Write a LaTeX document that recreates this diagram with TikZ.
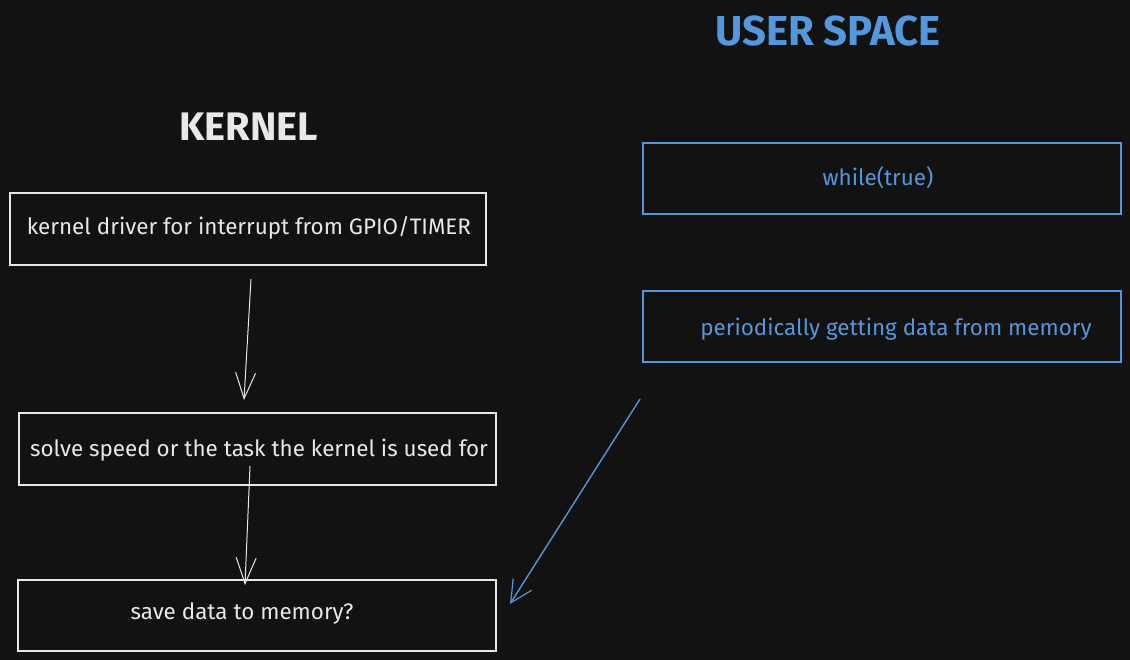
\documentclass[tikz,border=0pt]{standalone}
\usepackage{fontspec}
\setmainfont{Fira Sans}
\usetikzlibrary{arrows.meta}
\definecolor{bg}{HTML}{121212}
\definecolor{ink}{HTML}{E8E8E8}
\definecolor{blu}{HTML}{5597DC}
\tikzset{
  wbox/.style={draw=ink, line width=1.1pt},
  bbox/.style={draw=blu, line width=1.1pt},
  wtxt/.style={text=ink, font=\fontsize{22.5}{26}\selectfont, inner sep=0pt},
  btxt/.style={text=blu, font=\fontsize{22.5}{26}\selectfont, inner sep=0pt},
  warrow/.style={draw=ink, line width=1pt, -{Straight Barb[length=26pt,width=20pt,line width=1pt]}},
  barrow/.style={draw=blu, line width=1.4pt, -{Straight Barb[length=22pt,width=22pt,line width=1.2pt]}},
}
\begin{document}
\begin{tikzpicture}[x=1bp,y=-1bp]
\fill[bg] (0,0) rectangle (1130,660);
\useasboundingbox (0,0) rectangle (1130,660);
% titles
\node[text=ink, font=\fontsize{40}{44}\selectfont\bfseries, inner sep=0pt] (kt) at (249,127) {KERNEL};
\node[text=blu, font=\fontsize{42}{46}\selectfont\bfseries, inner sep=0pt] (ut) at (828,31) {USER SPACE};
% kernel boxes
\draw[wbox] (10,193) rectangle (486,265);
\node[wtxt] (k1) at (249,228) {kernel driver for interrupt from GPIO/TIMER};
\draw[wbox] (19,413) rectangle (496,485);
\node[wtxt] (k2) at (259,450) {solve speed or the task the kernel is used for};
\draw[wbox] (18,580) rectangle (496,651);
\node[wtxt] (k3) at (242,613) {save data to memory?};
% user boxes
\draw[bbox] (643,143) rectangle (1121,214);
\node[btxt] (u1) at (878,178) {while(true)};
\draw[bbox] (643,291) rectangle (1121,362);
\node[btxt] (u2) at (896,329) {periodically getting data from memory};
% arrows
\coordinate (a1s) at (251,279);
\coordinate (a1e) at (244,400);
\coordinate (a2s) at (250,466);
\coordinate (a2e) at (245,585);
\coordinate (a3s) at (640,399);
\coordinate (a3e) at (510,604);
\draw[warrow] (a1s) -- (a1e);
\draw[warrow] (a2s) -- (a2e);
\draw[barrow] (a3s) -- (a3e);
\end{tikzpicture}
\end{document}
